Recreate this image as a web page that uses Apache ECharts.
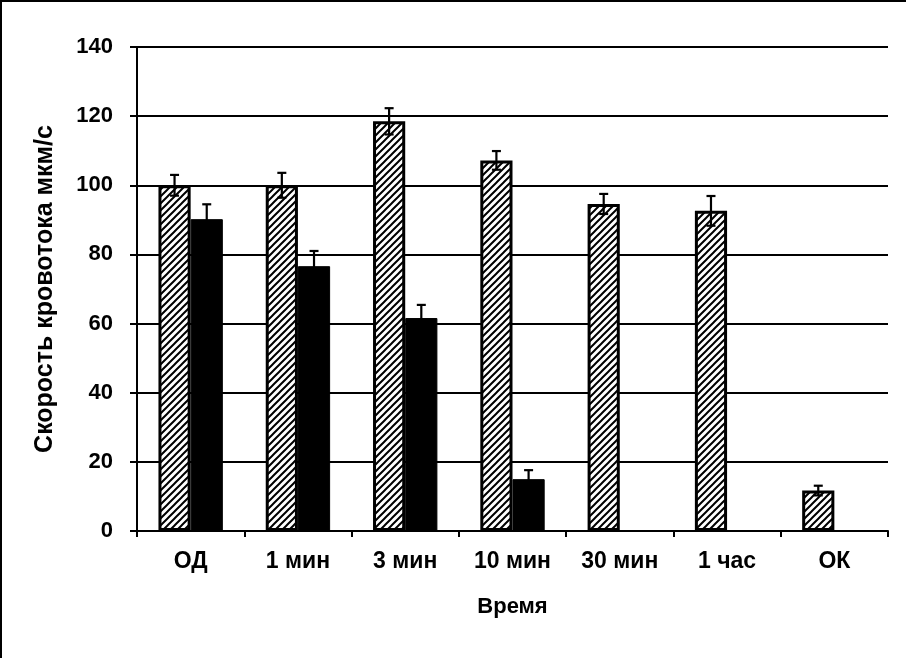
<!DOCTYPE html>
<html>
<head>
<meta charset="utf-8">
<script src="https://cdn.jsdelivr.net/npm/echarts@6/dist/echarts.min.js"></script>
<style>
html,body{margin:0;padding:0;background:#fff;}
#c{width:911px;height:658px;}
</style>
</head>
<body>
<div id="c"></div>
<script>
var categories = ['ОД', '1 мин', '3 мин', '10 мин', '30 мин', '1 час', 'ОК'];
var hatchedValues = [100, 100, 118.5, 107.2, 94.6, 92.6, 11.7];
var hatchedErrors = [3, 3.6, 3.8, 2.7, 2.9, 4.3, 1.4];
var blackValues = [90.2, 76.6, 61.6, 15.0, null, null, null];
var blackErrors = [4.3, 4.4, 3.8, 2.6, null, null, null];
var yTicks = {min: 0, max: 140, interval: 20};

var pc = document.createElement('canvas');
pc.width = 7; pc.height = 7;
var g = pc.getContext('2d');
g.fillStyle = '#fff'; g.fillRect(0, 0, 7, 7);
g.strokeStyle = '#000'; g.lineWidth = 2;
g.beginPath();
g.moveTo(-1, 8); g.lineTo(8, -1);
g.moveTo(-1, 1); g.lineTo(1, -1);
g.moveTo(6, 8); g.lineTo(8, 6);
g.stroke();

function errData(vals, errs) {
  var out = [];
  for (var i = 0; i < vals.length; i++) {
    if (vals[i] != null) out.push([i, vals[i], errs[i]]);
  }
  return out;
}
function errRender(offsetFrac) {
  return function (params, api) {
    var i = api.value(0), v = api.value(1), e = api.value(2);
    var band = api.size([1, 0])[0];
    var top = api.coord([i, v + e]);
    var bot = api.coord([i, v - e]);
    var x = top[0] + offsetFrac * band;
    var hw = 4.5;
    var st = {stroke: '#000', lineWidth: 2.2};
    return {
      type: 'group',
      children: [
        {type: 'line', shape: {x1: x, y1: top[1], x2: x, y2: bot[1]}, style: st},
        {type: 'line', shape: {x1: x - hw, y1: top[1], x2: x + hw, y2: top[1]}, style: st},
        {type: 'line', shape: {x1: x - hw, y1: bot[1], x2: x + hw, y2: bot[1]}, style: st}
      ]
    };
  };
}

var font = '"Liberation Sans", Arial, sans-serif';
var chart = echarts.init(document.getElementById('c'), null, {renderer: 'canvas'});
chart.setOption({
  animation: false,
  backgroundColor: '#fff',
  grid: {left: 137, right: 23, top: 47, bottom: 127, containLabel: false},
  xAxis: {
    type: 'category',
    data: categories,
    name: 'Время',
    nameLocation: 'middle',
    nameGap: 76,
    nameTextStyle: {fontFamily: font, fontWeight: 'bold', fontSize: 22, color: '#000', verticalAlign: 'middle'},
    axisLine: {lineStyle: {color: '#000', width: 2}},
    axisTick: {show: true, alignWithLabel: false, length: 6, lineStyle: {color: '#000', width: 2}},
    axisLabel: {fontFamily: font, fontWeight: 'bold', fontSize: 23, color: '#000', margin: 19},
    splitLine: {show: false}
  },
  yAxis: {
    type: 'value',
    min: yTicks.min, max: yTicks.max, interval: yTicks.interval,
    name: 'Скорость кровотока мкм/с',
    nameLocation: 'middle',
    nameGap: 92,
    nameTextStyle: {fontFamily: font, fontWeight: 'bold', fontSize: 25, color: '#000', verticalAlign: 'middle'},
    axisLine: {show: true, lineStyle: {color: '#000', width: 2}},
    axisTick: {show: true, length: 7, lineStyle: {color: '#000', width: 2}},
    axisLabel: {fontFamily: font, fontWeight: 'bold', fontSize: 22, color: '#000', margin: 24},
    splitLine: {show: true, lineStyle: {color: '#000', width: 2}}
  },
  series: [
    {
      type: 'bar',
      data: hatchedValues,
      barGap: '0%',
      barCategoryGap: '40%',
      itemStyle: {color: {image: pc, repeat: 'repeat'}, borderColor: '#000', borderWidth: 3},
      z: 2
    },
    {
      type: 'bar',
      data: blackValues,
      barGap: '0%',
      barCategoryGap: '40%',
      itemStyle: {color: '#000', borderColor: '#000', borderWidth: 1},
      z: 2
    },
    {
      type: 'custom',
      data: errData(hatchedValues, hatchedErrors),
      renderItem: errRender(-0.15),
      z: 5
    },
    {
      type: 'custom',
      data: errData(blackValues, blackErrors),
      renderItem: errRender(0.15),
      z: 5
    }
  ],
  graphic: [
    {type: 'line', shape: {x1: 0, y1: 1, x2: 906, y2: 1}, style: {stroke: '#000', lineWidth: 2}, z: 100},
    {type: 'line', shape: {x1: 1, y1: 0, x2: 1, y2: 658}, style: {stroke: '#000', lineWidth: 2}, z: 100}
  ]
});
</script>
</body>
</html>
